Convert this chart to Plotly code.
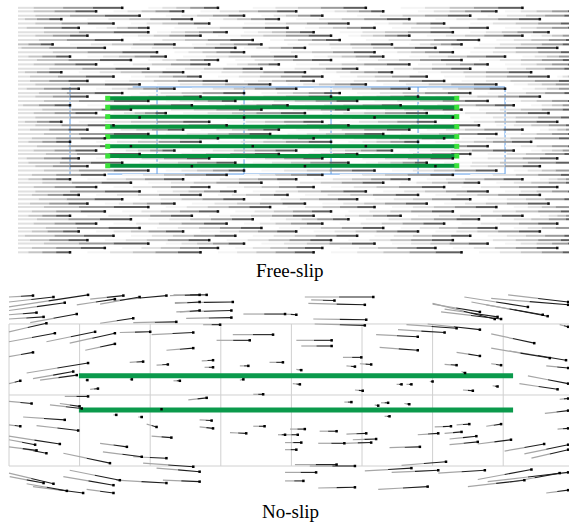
import plotly.graph_objects as go

# ---------------- Free-slip panel (units: grid cells) ----------------
free_rows_y = [1.91, 1.87, 1.82, 1.78, 1.73, 1.68, 1.63, 1.59, 1.54, 1.49, 1.45, 1.40, 1.35, 1.31, 1.26,
               1.21, 1.17, 1.12, 1.07, 1.03, 0.98, 0.93, 0.89, 0.84, 0.79, 0.74, 0.70, 0.65, 0.60, 0.56,
               0.51, 0.46, 0.41, 0.37, 0.32, 0.27, 0.23, 0.18, 0.13, 0.09, 0.04, -0.01, -0.06, -0.10, -0.15,
               -0.20, -0.24, -0.29, -0.34, -0.38, -0.43, -0.48, -0.52, -0.57, -0.62, -0.66, -0.71, -0.76,
               -0.80, -0.85, -0.90]
# streamlines entering from the left edge start outside the view (x < -0.6)
free_rows_seg = [
    [(-1.1, 0.6), (0.9, 1.7), (2.1, 3.4), (3.8, 5.2)],
    [(-0.9, 0.3), (0.5, 1.3), (1.5, 2.6), (2.9, 3.6), (4.0, 4.9), (5.0, 5.9)],
    [(-1.2, 0.8), (1.1, 2.0), (2.2, 2.9), (3.3, 4.6), (4.8, 5.9)],
    [(-0.8, -0.1), (0.2, 1.4), (1.6, 2.4), (2.6, 3.9), (4.2, 5.4)],
    [(-1.0, 0.5), (0.7, 1.6), (2.0, 3.2), (3.5, 4.3), (4.6, 5.9)],
    [(-0.9, 0.1), (0.3, 0.9), (1.2, 2.5), (2.7, 3.5), (3.7, 4.8), (5.0, 5.9)],
    [(-1.1, 0.9), (1.0, 1.8), (2.0, 2.8), (3.1, 4.4), (4.6, 5.5)],
    [(-0.8, 0.2), (0.6, 1.5), (1.7, 3.0), (3.2, 3.9), (4.1, 5.2), (5.3, 5.9)],
    [(-1.0, 0.6), (0.8, 2.1), (2.3, 3.1), (3.4, 4.7), (4.9, 5.9)],
    [(-0.9, -0.2), (0.0, 1.2), (1.4, 2.2), (2.5, 3.7), (3.9, 4.5), (4.7, 5.9)],
    [(-1.2, 0.4), (0.7, 1.9), (2.0, 2.7), (3.0, 4.2), (4.4, 5.6)],
    [(-1.0, 1.0), (1.2, 2.0), (2.3, 3.5), (3.6, 4.4), (4.6, 5.9)],
    [(-0.8, 0.0), (0.2, 1.1), (1.3, 2.6), (2.8, 3.6), (3.9, 5.0), (5.2, 5.9)],
    [(-1.1, 0.7), (0.9, 1.7), (1.9, 3.0), (3.3, 4.5), (4.7, 5.9)],
    [(-0.9, 0.3), (0.5, 1.6), (1.8, 2.4), (2.6, 3.9), (4.0, 4.8), (5.0, 5.9)],
    [(-1.0, 0.9), (1.1, 2.2), (2.4, 3.3), (3.5, 4.6), (4.8, 5.9)],
    [(-0.8, -0.1), (0.1, 1.3), (1.5, 2.7), (2.9, 3.7), (4.0, 5.3)],
    [(-1.1, 0.5), (0.7, 1.5), (1.7, 2.9), (3.1, 4.1), (4.3, 5.5), (5.6, 5.9)],
    [(-0.9, 0.2), (0.4, 1.8), (2.0, 2.8), (3.0, 4.3), (4.5, 5.9)],
    [(-1.2, 0.8), (1.0, 2.3), (2.5, 3.4), (3.6, 4.9), (5.1, 5.9)],
    [(-0.9, 0.1), (0.3, 1.2), (1.4, 2.6), (2.8, 3.9), (4.1, 5.0), (5.2, 5.9)],
    [(-1.0, 0.6), (0.8, 2.0), (2.2, 3.1), (3.3, 4.6), (4.8, 5.9)],
    [(-0.8, 0.2), (0.5, 1.5), (1.7, 3.0), (3.2, 4.0), (4.2, 5.4)],
    [(-1.1, 0.9), (1.1, 1.9), (2.1, 3.3), (3.5, 4.8), (5.0, 5.9)],
    [(-0.9, 0.0), (0.2, 1.4), (1.6, 2.5), (2.7, 3.8), (4.0, 5.1), (5.3, 5.9)],
    [(-1.0, 0.7), (0.9, 2.2), (2.4, 3.2), (3.4, 4.5), (4.7, 5.9)],
    [(-0.9, 0.3), (0.5, 1.1), (1.3, 2.7), (2.9, 4.1), (4.3, 5.5)],
    [(-1.2, 0.8), (1.0, 2.0), (2.2, 3.5), (3.7, 4.4), (4.6, 5.9)],
    [(-0.8, -0.1), (0.1, 1.6), (1.8, 2.9), (3.1, 4.2), (4.4, 5.6)],
    [(-1.0, 0.5), (0.7, 1.8), (2.0, 3.2), (3.4, 4.7), (4.9, 5.9)],
    [(-0.9, 0.2), (0.4, 1.3), (1.5, 2.4), (2.6, 3.9), (4.1, 5.2), (5.4, 5.9)],
    [(-1.1, 0.9), (1.1, 2.3), (2.5, 3.6), (3.8, 4.9), (5.0, 5.9)],
    [(-1.0, 0.4), (0.6, 1.7), (1.9, 2.8), (3.0, 4.3), (4.5, 5.9)],
    [(-0.8, 0.0), (0.3, 1.5), (1.7, 3.0), (3.2, 4.0), (4.2, 5.3)],
    [(-1.1, 0.7), (0.9, 2.1), (2.3, 3.4), (3.6, 4.8), (5.0, 5.9)],
    [(-0.9, 0.3), (0.5, 1.2), (1.4, 2.6), (2.8, 3.7), (3.9, 5.1), (5.3, 5.9)],
    [(-1.0, 0.8), (1.0, 2.4), (2.6, 3.3), (3.5, 4.6), (4.8, 5.9)],
    [(-0.9, 0.1), (0.3, 1.6), (1.8, 2.9), (3.1, 4.4), (4.6, 5.6)],
    [(-1.2, 0.6), (0.8, 1.9), (2.1, 3.2), (3.4, 4.1), (4.3, 5.9)],
    [(-0.8, 0.2), (0.4, 1.4), (1.6, 2.7), (2.9, 4.2), (4.4, 5.4)],
    [(-1.1, 0.9), (1.1, 2.0), (2.2, 3.5), (3.7, 4.9), (5.1, 5.9)],
    [(-1.0, 0.4), (0.6, 1.8), (2.0, 2.9), (3.1, 4.4), (4.6, 5.9)],
    [(-0.8, 0.0), (0.2, 1.3), (1.5, 2.6), (2.8, 3.9), (4.1, 5.2), (5.4, 5.9)],
    [(-1.0, 0.7), (0.9, 2.2), (2.4, 3.6), (3.8, 4.7), (4.9, 5.9)],
    [(-0.9, 0.3), (0.5, 1.6), (1.8, 2.8), (3.0, 4.3), (4.5, 5.6)],
    [(-1.2, 0.8), (1.0, 1.9), (2.1, 3.4), (3.6, 4.8), (5.0, 5.9)],
    [(-0.8, 0.1), (0.3, 1.5), (1.7, 2.5), (2.7, 4.0), (4.2, 5.4)],
    [(-1.0, 0.6), (0.8, 2.0), (2.2, 3.3), (3.5, 4.6), (4.8, 5.9)],
    [(-0.9, 0.2), (0.4, 1.2), (1.4, 2.7), (2.9, 4.1), (4.3, 5.5)],
    [(-1.1, 0.9), (1.1, 2.3), (2.5, 3.5), (3.7, 4.9), (5.1, 5.9)],
    [(-1.0, 0.4), (0.6, 1.7), (1.9, 3.0), (3.2, 4.4), (4.6, 5.9)],
    [(-0.8, 0.0), (0.2, 1.4), (1.6, 2.8), (3.0, 3.8), (4.0, 5.2), (5.4, 5.9)],
    [(-1.1, 0.7), (0.9, 2.1), (2.3, 3.2), (3.4, 4.7), (4.9, 5.9)],
    [(-0.9, 0.3), (0.5, 1.8), (2.0, 2.9), (3.1, 4.3), (4.5, 5.6)],
    [(-1.0, 0.8), (1.0, 2.2), (2.4, 3.6), (3.8, 4.9), (5.1, 5.9)],
    [(-0.8, 0.1), (0.3, 1.3), (1.5, 2.6), (2.8, 4.0), (4.2, 5.4)],
    [(-1.2, 0.5), (0.7, 1.9), (2.1, 3.3), (3.5, 4.6), (4.8, 5.9)],
    [(-0.9, 0.2), (0.4, 1.6), (1.8, 3.0), (3.2, 4.4), (4.6, 5.9)],
    [(-1.1, 0.9), (1.1, 2.0), (2.2, 3.5), (3.7, 4.8), (5.0, 5.9)],
    [(-1.0, 0.4), (0.6, 1.7), (1.9, 2.9), (3.1, 4.2), (4.4, 5.6)],
    [(-0.8, 0.0), (0.2, 1.5), (1.7, 2.8), (3.0, 4.5), (4.7, 5.9)],
]
free_plate_y = [0.870, 0.767, 0.659, 0.544, 0.429, 0.318, 0.207, 0.095]
free_plate_x = [0.433, 4.445]
free_grid_x = [0, 1, 2, 3, 4, 5]
free_grid_top = [0.72, 5.0]
free_grid_bottom = [0.43, 5.0]
free_grid_y = [0.0, 1.0]

# ---------------- No-slip panel (units: grid cells) ----------------
# each streamline: (x_start, y_start, x_end, y_end)
noslip_lines = [
    (0.00, 2.38, 0.34, 2.40), (0.00, 2.31, 0.63, 2.38), (0.00, 2.24, 1.12, 2.41), (0.00, 2.19, 0.79, 2.30),
    (0.00, 2.13, 0.39, 2.16), (0.00, 2.07, 0.49, 2.10), (0.96, 2.27, 1.50, 2.35), (1.15, 2.35, 1.62, 2.40),
    (1.29, 2.28, 1.85, 2.38), (1.48, 2.33, 2.23, 2.40), (2.28, 2.40, 2.70, 2.41), (2.35, 2.29, 2.70, 2.31),
    (2.42, 2.17, 2.70, 2.19), (0.30, 2.02, 0.96, 2.14), (1.29, 2.01, 1.76, 2.08), (1.76, 2.02, 2.37, 2.03),
    (0.00, 1.89, 0.53, 2.01), (0.00, 1.75, 0.65, 1.87), (0.53, 1.75, 1.22, 1.89), (0.86, 1.73, 1.50, 1.87),
    (1.08, 1.63, 1.50, 1.72), (1.57, 1.88, 2.00, 1.89), (2.02, 1.85, 2.61, 1.88), (2.23, 1.63, 2.61, 1.66),
    (0.00, 1.54, 0.34, 1.60), (1.71, 1.46, 1.90, 1.47), (2.09, 1.42, 2.25, 1.43), (0.25, 1.31, 1.12, 1.45),
    (0.34, 1.23, 0.91, 1.33), (0.44, 1.21, 0.96, 1.28), (0.00, 1.16, 0.16, 1.20), (1.15, 1.08, 1.26, 1.09),
    (0.00, 0.91, 0.32, 0.88), (0.79, 0.98, 1.12, 0.98), (0.58, 0.86, 1.03, 0.81), (0.72, 0.88, 1.00, 0.84),
    (0.20, 0.69, 0.79, 0.65), (0.00, 0.58, 0.16, 0.56), (0.39, 0.57, 0.98, 0.50), (1.95, 0.59, 2.09, 0.55),
    (2.02, 0.42, 2.30, 0.40), (0.00, 0.42, 0.72, 0.31), (0.00, 0.37, 0.37, 0.30), (0.00, 0.27, 0.39, 0.22),
    (0.16, 0.25, 0.53, 0.18), (0.77, 0.18, 1.43, 0.04), (1.29, 0.32, 1.67, 0.27), (1.33, 0.20, 1.88, 0.13),
    (1.76, 0.13, 2.23, 0.11), (1.90, 0.04, 2.61, -0.01), (2.09, -0.03, 2.70, -0.08), (0.00, -0.10, 0.63, -0.25),
    (0.01, -0.15, 0.49, -0.24), (0.25, -0.25, 0.82, -0.35), (0.86, -0.06, 1.57, -0.20), (0.77, -0.15, 1.48, -0.27),
    (0.34, -0.29, 1.05, -0.38), (1.10, -0.33, 1.48, -0.38), (1.52, -0.20, 2.23, -0.24), (2.18, -0.20, 2.70, -0.22),
    (2.94, 1.77, 3.41, 1.77), (3.17, 1.85, 3.74, 1.85), (2.73, 1.48, 2.89, 1.49), (2.77, 1.39, 2.89, 1.39),
    (3.27, 1.41, 3.39, 1.41), (3.69, 1.46, 3.88, 1.46), (3.46, 1.01, 3.60, 1.01), (3.27, 1.21, 3.32, 1.22),
    (2.33, 1.20, 2.42, 1.20), (2.54, 0.93, 2.80, 0.96), (2.70, 0.65, 2.87, 0.64), (2.70, 0.55, 2.89, 0.53),
    (3.13, 0.47, 3.36, 0.46), (3.46, 0.56, 3.62, 0.56), (3.81, 0.44, 3.91, 0.44), (2.35, 2.30, 3.17, 2.31),
    (2.37, 2.17, 3.15, 2.19), (2.51, 2.08, 3.15, 2.09), (3.32, 2.14, 3.91, 2.14), (2.33, 2.41, 2.80, 2.41),
    (2.75, 1.99, 2.99, 1.99), (1.48, 0.72, 1.52, 0.72), (1.83, 0.69, 1.88, 0.69), (2.14, 0.80, 2.16, 0.80),
    (1.08, 1.21, 1.11, 1.21), (1.71, 1.22, 1.74, 1.22),
    (4.19, 2.38, 5.16, 2.38), (4.28, 2.34, 4.61, 2.33), (4.24, 2.29, 5.04, 2.27), (3.91, 2.14, 4.07, 2.13),
    (4.31, 2.07, 5.06, 2.06), (4.33, 2.00, 5.04, 1.98), (6.00, 2.29, 6.88, 2.07), (6.17, 2.21, 6.92, 2.10),
    (6.45, 2.38, 7.35, 2.24), (6.55, 2.31, 7.63, 2.11), (6.83, 2.36, 7.92, 2.27), (7.07, 2.41, 7.92, 2.31),
    (5.20, 1.85, 5.79, 1.82), (5.51, 1.92, 6.17, 1.88), (5.63, 1.99, 6.34, 1.94), (5.93, 2.00, 6.67, 1.92),
    (4.07, 1.77, 4.57, 1.77), (4.14, 1.69, 4.57, 1.69), (5.25, 1.67, 5.79, 1.63), (4.73, 1.53, 4.99, 1.53),
    (4.78, 1.41, 4.90, 1.40), (4.97, 1.44, 5.13, 1.43), (4.07, 1.36, 4.14, 1.35), (6.17, 1.43, 6.34, 1.42),
    (6.34, 1.60, 6.67, 1.55), (6.83, 1.86, 7.44, 1.73), (6.83, 1.66, 7.66, 1.52), (6.83, 1.44, 6.97, 1.42),
    (6.41, 1.33, 6.46, 1.31), (4.02, 1.16, 4.12, 1.15), (5.49, 1.15, 5.56, 1.15), (5.63, 1.15, 5.70, 1.15),
    (5.96, 1.19, 6.00, 1.19), (4.90, 1.07, 5.01, 1.06), (6.43, 1.07, 6.57, 1.06), (6.85, 1.13, 6.92, 1.12),
    (7.35, 1.27, 7.92, 1.16), (7.23, 1.16, 7.77, 1.08), (4.75, 0.90, 4.85, 0.90), (5.18, 0.86, 5.23, 0.85),
    (5.27, 0.89, 5.37, 0.89), (5.60, 0.88, 5.67, 0.87), (5.32, 0.70, 5.39, 0.70), (3.98, 0.52, 4.19, 0.52),
    (3.91, 0.44, 4.09, 0.44), (4.40, 0.49, 4.64, 0.49), (4.78, 0.45, 5.06, 0.46), (3.91, 0.33, 4.14, 0.33),
    (4.38, 0.32, 4.75, 0.32), (4.75, 0.32, 5.13, 0.33), (4.87, 0.37, 5.20, 0.38), (3.91, 0.23, 4.07, 0.23),
    (5.39, 0.26, 5.82, 0.27), (5.79, 0.44, 6.08, 0.46), (6.03, 0.55, 6.26, 0.56), (6.17, 0.46, 6.41, 0.48),
    (6.34, 0.58, 6.52, 0.59), (6.76, 0.56, 6.97, 0.59), (6.24, 0.38, 6.62, 0.42), (6.24, 0.30, 6.64, 0.34),
    (6.64, 0.31, 7.11, 0.37), (7.02, 0.21, 7.58, 0.31), (7.30, 0.17, 7.92, 0.30), (7.40, 0.11, 7.92, 0.23),
    (4.05, 0.02, 4.64, 0.02), (4.26, 0.00, 4.90, 0.00), (5.56, 0.01, 6.19, 0.06), (3.91, -0.09, 4.35, -0.09),
    (5.04, -0.07, 5.70, -0.03), (5.42, -0.09, 6.08, -0.06), (6.08, -0.10, 6.74, -0.06), (6.64, -0.19, 7.40, -0.05),
    (3.91, -0.21, 4.17, -0.21), (6.78, -0.22, 7.92, -0.09), (6.50, -0.29, 7.30, -0.20), (4.38, -0.31, 4.90, -0.30),
    (5.23, -0.33, 5.93, -0.29),
    (6.00, 2.28, 6.67, 2.17), (6.12, 2.17, 6.97, 2.07), (6.76, 2.27, 7.56, 2.13), (7.80, 1.99, 7.92, 1.96),
    (7.09, 1.62, 7.89, 1.49), (7.61, 1.41, 7.92, 1.38), (7.80, 0.94, 7.92, 0.95), (7.59, 0.74, 7.92, 0.78),
    (7.77, 0.52, 7.92, 0.53), (7.61, -0.38, 7.92, -0.34), (7.09, -0.23, 7.80, -0.10),
]
noslip_plate_y = [1.27, 0.79]
noslip_plate_x = [0.99, 7.14]
noslip_grid_x = [0, 1, 2, 3, 4, 5, 6, 7]
noslip_grid_y = [0, 1, 2]
noslip_grid_xspan = [0.0, 8.2]

panel_titles = ["Free-slip", "No-slip"]

fig = go.Figure()
T = dict(xaxis="x", yaxis="y")
B = dict(xaxis="x2", yaxis="y2")

# --- top: blue grid
gx, gy = [], []
for xv in free_grid_x:
    gx += [xv, xv, None]
    gy += [free_grid_y[0], free_grid_y[1], None]
gx += [free_grid_top[0], free_grid_top[1], None, free_grid_bottom[0], free_grid_bottom[1], None]
gy += [free_grid_y[1], free_grid_y[1], None, free_grid_y[0], free_grid_y[0], None]
fig.add_trace(go.Scatter(x=gx, y=gy, mode="lines", line=dict(color="#5b9be6", width=1),
                         hoverinfo="skip", showlegend=False, **T))

# --- top: gradient streamlines
levels = ["#f5f5f5", "#e0e0e0", "#c4c4c4", "#9a9a9a", "#5e5e5e"]
n = len(levels)
for k, col in enumerate(levels):
    lx, ly = [], []
    for yv, segs in zip(free_rows_y, free_rows_seg):
        for x0, x1 in segs:
            lx += [x0 + (x1 - x0) * k / n, x0 + (x1 - x0) * (k + 1) / n, None]
            ly += [yv, yv, None]
    fig.add_trace(go.Scatter(x=lx, y=ly, mode="lines", line=dict(color=col, width=2),
                             hoverinfo="skip", showlegend=False, **T))

# --- top: green plates (drawn over the streamlines)
px_, py_ = [], []
for yv in free_plate_y:
    px_ += [free_plate_x[0], free_plate_x[1], None]
    py_ += [yv, yv, None]
fig.add_trace(go.Scatter(x=px_, y=py_, mode="lines", line=dict(color="#07923f", width=4),
                         hoverinfo="skip", showlegend=False, **T))
ex, ey = [], []
for yv in free_plate_y:
    ex += [free_plate_x[0], free_plate_x[1]]
    ey += [yv, yv]
fig.add_trace(go.Scatter(x=ex, y=ey, mode="markers",
                         marker=dict(symbol="square", size=5, color="#3ae23a"),
                         hoverinfo="skip", showlegend=False, **T))

dx, dy = [], []
for yv, segs in zip(free_rows_y, free_rows_seg):
    for x0, x1 in segs:
        dx.append(x1)
        dy.append(yv)
fig.add_trace(go.Scatter(x=dx, y=dy, mode="markers",
                         marker=dict(symbol="square", size=2.5, color="#111111"),
                         hoverinfo="skip", showlegend=False, **T))

# --- bottom: grid
bx, by = [], []
for xv in noslip_grid_x:
    bx += [xv, xv, None]
    by += [noslip_grid_y[0], noslip_grid_y[-1], None]
for yv in noslip_grid_y:
    bx += [noslip_grid_xspan[0], noslip_grid_xspan[1], None]
    by += [yv, yv, None]
fig.add_trace(go.Scatter(x=bx, y=by, mode="lines", line=dict(color="#d0d0d0", width=1),
                         hoverinfo="skip", showlegend=False, **B))

# --- bottom: green plates
qx, qy = [], []
for yv in noslip_plate_y:
    qx += [noslip_plate_x[0], noslip_plate_x[1], None]
    qy += [yv, yv, None]
fig.add_trace(go.Scatter(x=qx, y=qy, mode="lines", line=dict(color="#0b9a4c", width=5),
                         hoverinfo="skip", showlegend=False, **B))

# --- bottom: streamlines (gray tail, dark head)
split = 0.5
tx, ty, hx, hy, ax_, ay_ = [], [], [], [], [], []
for x0, y0, x1, y1 in noslip_lines:
    xm = x0 + (x1 - x0) * split
    ym = y0 + (y1 - y0) * split
    tx += [x0, xm, None]
    ty += [y0, ym, None]
    hx += [xm, x1, None]
    hy += [ym, y1, None]
    ax_.append(x1)
    ay_.append(y1)
fig.add_trace(go.Scatter(x=tx, y=ty, mode="lines", line=dict(color="#a6a6a6", width=1.2),
                         hoverinfo="skip", showlegend=False, **B))
fig.add_trace(go.Scatter(x=hx, y=hy, mode="lines", line=dict(color="#1e1e1e", width=1.1),
                         hoverinfo="skip", showlegend=False, **B))
fig.add_trace(go.Scatter(x=ax_, y=ay_, mode="markers",
                         marker=dict(symbol="square", size=2.5, color="#000000"),
                         hoverinfo="skip", showlegend=False, **B))

axis_off = dict(showgrid=False, zeroline=False, showticklabels=False, showline=False, ticks="")
fig.update_layout(
    width=569, height=527,
    margin=dict(l=0, r=0, t=0, b=0),
    paper_bgcolor="white", plot_bgcolor="white",
    xaxis=dict(domain=[18 / 569, 1.0], range=[-0.598, 5.735], **axis_off),
    yaxis=dict(domain=[0.5142, 0.9905], range=[-0.9425, 1.9425], **axis_off),
    xaxis2=dict(domain=[0.0, 1.0], range=[-0.1275, 7.932], **axis_off),
    yaxis2=dict(domain=[0.0512, 0.4592], range=[-0.479, 2.549], **axis_off),
    annotations=[
        dict(text=panel_titles[0], x=0.5097, y=0.4858, xref="paper", yref="paper",
             showarrow=False, xanchor="center", yanchor="middle",
             font=dict(family="Liberation Serif, Times New Roman, serif", size=19, color="black")),
        dict(text=panel_titles[1], x=0.5114, y=0.0285, xref="paper", yref="paper",
             showarrow=False, xanchor="center", yanchor="middle",
             font=dict(family="Liberation Serif, Times New Roman, serif", size=19, color="black")),
    ],
)

fig.write_html("out.html", config={"displayModeBar": False},
               post_script="document.body.style.margin='0';")
